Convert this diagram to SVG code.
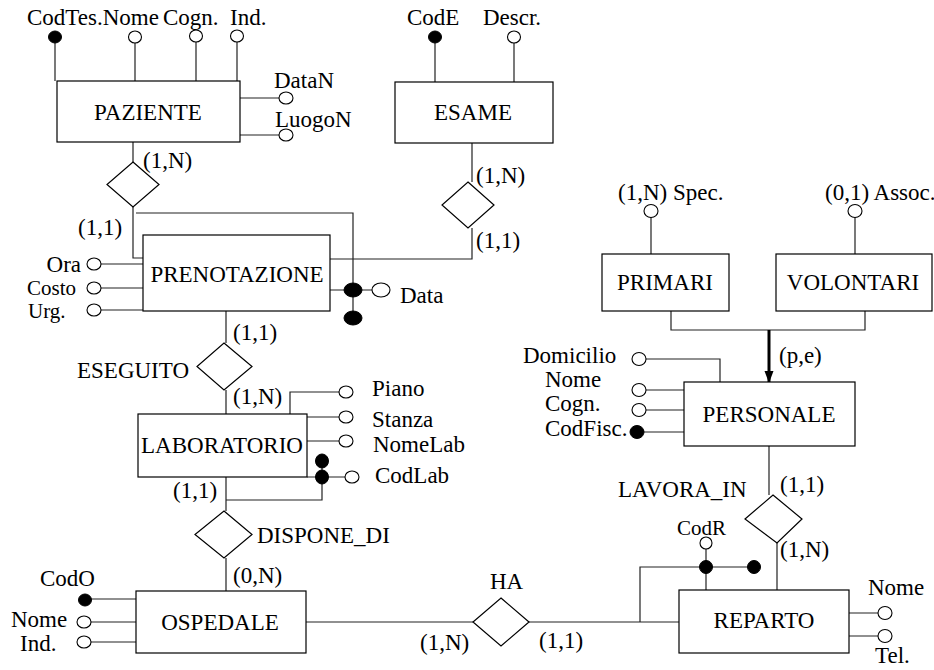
<svg xmlns="http://www.w3.org/2000/svg" width="934" height="670" viewBox="0 0 934 670">
<style>
text{font-family:"Liberation Serif","Times New Roman",serif;font-size:23px;fill:#000}
.c{text-anchor:middle}
.e{fill:#fff;stroke:#000;stroke-width:1.2}
.l{fill:none;stroke:#222;stroke-width:1.2}
.o{fill:#fff;stroke:#000;stroke-width:1.1}
.k{fill:#000;stroke:#000;stroke-width:1}
.r{fill:#fff;stroke:#000;stroke-width:1.2}
.s{font-size:21px}
</style>
<defs>
<marker id="ah" markerWidth="12" markerHeight="10" refX="11" refY="4.5" orient="auto" markerUnits="userSpaceOnUse" viewBox="0 0 12 9">
<path d="M0,0 L12,4.5 L0,9 Z" fill="#000"/>
</marker>
</defs>
<rect width="934" height="670" fill="#fff"/>

<g id="connectors">
<path class="l" d="M55,43V81 M135,43V81 M196,42V81 M237,42V81 M240,98H279 M240,135H279"/>
<path class="l" d="M435,43V82 M514,43V82"/>
<path class="l" d="M133,142V162 M133,207V258H143"/>
<path class="l" d="M136,213H353V318"/>
<path class="l" d="M472,143V182 M472,228V259H330"/>
<path class="l" d="M101,264H143 M101,288H143 M101,310H143 M330,290H372"/>
<path class="l" d="M226,311V343 M226,390V414"/>
<path class="l" d="M290,414V392H339 M305,417H339 M307,441H339 M307,477H345 M322,461V500H226"/>
<path class="l" d="M226,477V511 M226,558V591"/>
<path class="l" d="M91,599H136 M91,622H136 M91,642H136"/>
<path class="l" d="M306,622H473 M529,622H679"/>
<path class="l" d="M640,622V567H754 M706,549V590"/>
<path class="l" d="M849,613H878 M849,636H878"/>
<path class="l" d="M769,446V495 M777,543V590"/>
<path class="l" d="M646,359H720V382 M646,390H684 M646,410H684 M644,432H684"/>
<path class="l" d="M671,311V330H865V311"/>
<path d="M769,330V382" stroke="#000" stroke-width="3" fill="none" marker-end="url(#ah)"/>
<path class="l" d="M651,217V254 M855,217V254"/>
</g>

<g id="PAZIENTE">
<rect class="e" x="57" y="81" width="183" height="61"/>
<text class="c" x="148" y="120">PAZIENTE</text>
<ellipse class="k" cx="55" cy="37" rx="6.5" ry="6"/>
<ellipse class="o" cx="135" cy="37" rx="6.5" ry="6"/>
<ellipse class="o" cx="196" cy="36" rx="6.5" ry="6"/>
<ellipse class="o" cx="237" cy="36" rx="6.5" ry="6"/>
<text x="27" y="25">CodTes.Nome</text>
<text x="163" y="25">Cogn.</text>
<text x="230" y="25">Ind.</text>
<ellipse class="o" cx="286" cy="98" rx="7" ry="6"/>
<ellipse class="o" cx="286" cy="135" rx="7" ry="6"/>
<text x="274" y="88">DataN</text>
<text x="275" y="127">LuogoN</text>
</g>

<g id="ESAME">
<rect class="e" x="395" y="82" width="158" height="61"/>
<text class="c" x="473" y="120">ESAME</text>
<ellipse class="k" cx="435" cy="37" rx="6.5" ry="6"/>
<ellipse class="o" cx="514" cy="37" rx="6.5" ry="6"/>
<text x="407" y="25">CodE</text>
<text x="483" y="25">Descr.</text>
</g>

<g id="rel_paziente">
<path class="r" d="M133,162L159,184.5L133,207L107,184.5Z"/>
<text x="143" y="168">(1,N)</text>
<text x="78" y="235">(1,1)</text>
</g>

<g id="rel_esame">
<path class="r" d="M468,182L494,205L468,228L442,205Z"/>
<text x="476" y="183">(1,N)</text>
<text x="476" y="248">(1,1)</text>
</g>

<g id="PRENOTAZIONE">
<rect class="e" x="143" y="235" width="187" height="76"/>
<text class="c" x="237" y="282">PRENOTAZIONE</text>
<ellipse class="o" cx="94" cy="264" rx="7" ry="6"/>
<ellipse class="o" cx="94" cy="288" rx="7" ry="6"/>
<ellipse class="o" cx="94" cy="310" rx="7" ry="6"/>
<text x="81" y="272" text-anchor="end">Ora</text>
<text x="27" y="295" class="s">Costo</text>
<text x="28" y="318" class="s">Urg.</text>
<ellipse class="k" cx="353" cy="290" rx="9" ry="7"/>
<ellipse class="k" cx="353" cy="318" rx="9" ry="7"/>
<ellipse class="o" cx="381" cy="290" rx="9" ry="7"/>
<text x="400" y="303">Data</text>
</g>

<g id="ESEGUITO">
<path class="r" d="M224,343L252,366.5L224,390L197,366.5Z"/>
<text x="77" y="378">ESEGUITO</text>
<text x="233" y="340">(1,1)</text>
<text x="233" y="404">(1,N)</text>
</g>

<g id="LABORATORIO">
<rect class="e" x="138" y="414" width="169" height="63"/>
<text class="c" x="222" y="453">LABORATORIO</text>
<ellipse class="o" cx="346" cy="392" rx="7" ry="6"/>
<ellipse class="o" cx="346" cy="417" rx="7" ry="6"/>
<ellipse class="o" cx="346" cy="441" rx="7" ry="6"/>
<ellipse class="o" cx="352" cy="477" rx="7" ry="6"/>
<ellipse class="k" cx="322" cy="461" rx="6.5" ry="7"/>
<ellipse class="k" cx="322" cy="477" rx="6.5" ry="7"/>
<text x="372" y="396">Piano</text>
<text x="372" y="427">Stanza</text>
<text x="373" y="452">NomeLab</text>
<text x="375" y="483">CodLab</text>
</g>

<g id="DISPONE_DI">
<path class="r" d="M224,511L252,534.5L224,558L195,534.5Z"/>
<text x="257" y="543">DISPONE_DI</text>
<text x="173" y="498">(1,1)</text>
<text x="233" y="583">(0,N)</text>
</g>

<g id="OSPEDALE">
<rect class="e" x="136" y="591" width="170" height="62"/>
<text class="c" x="220" y="630">OSPEDALE</text>
<ellipse class="k" cx="85" cy="600" rx="6.5" ry="6"/>
<ellipse class="o" cx="84" cy="622" rx="7" ry="6"/>
<ellipse class="o" cx="84" cy="642" rx="7" ry="6"/>
<text x="40" y="586">CodO</text>
<text x="11" y="627">Nome</text>
<text x="20" y="651">Ind.</text>
</g>

<g id="HA">
<path class="r" d="M501,598L529,622L501,646L473,622Z"/>
<text x="490" y="589">HA</text>
<text x="420" y="650">(1,N)</text>
<text x="539" y="648">(1,1)</text>
</g>

<g id="REPARTO">
<rect class="e" x="679" y="590" width="170" height="63"/>
<text class="c" x="764" y="628">REPARTO</text>
<ellipse class="o" cx="706" cy="543" rx="6" ry="6"/>
<ellipse class="k" cx="706" cy="567" rx="6.5" ry="6.5"/>
<ellipse class="k" cx="754" cy="567" rx="6.5" ry="6.5"/>
<text x="677" y="535" style="font-size:21px">CodR</text>
<ellipse class="o" cx="885" cy="613" rx="7" ry="6.5"/>
<ellipse class="o" cx="885" cy="636" rx="7" ry="6.5"/>
<text x="868" y="595">Nome</text>
<text x="875" y="663">Tel.</text>
</g>

<g id="LAVORA_IN">
<path class="r" d="M773,495L802,519L777,543L745,519Z"/>
<text x="618" y="497">LAVORA_IN</text>
<text x="780" y="492">(1,1)</text>
<text x="780" y="557">(1,N)</text>
</g>

<g id="PERSONALE">
<rect class="e" x="684" y="382" width="171" height="64"/>
<text class="c" x="769" y="422">PERSONALE</text>
<ellipse class="o" cx="639" cy="359" rx="7" ry="6.5"/>
<ellipse class="o" cx="639" cy="390" rx="7" ry="6.5"/>
<ellipse class="o" cx="639" cy="410" rx="7" ry="6.5"/>
<ellipse class="k" cx="637" cy="432" rx="7" ry="6.5"/>
<text x="523" y="363">Domicilio</text>
<text x="545" y="387">Nome</text>
<text x="545" y="411">Cogn.</text>
<text x="545" y="436">CodFisc.</text>
<text x="779" y="363">(p,e)</text>
</g>

<g id="PRIMARI">
<rect class="e" x="602" y="254" width="127" height="57"/>
<text class="c" x="665" y="290">PRIMARI</text>
<ellipse class="o" cx="651" cy="211" rx="7" ry="6.5"/>
<text x="618" y="200">(1,N) Spec.</text>
</g>

<g id="VOLONTARI">
<rect class="e" x="776" y="254" width="156" height="57"/>
<text class="c" x="853" y="290">VOLONTARI</text>
<ellipse class="o" cx="855" cy="211" rx="7" ry="6.5"/>
<text x="825" y="200">(0,1) Assoc.</text>
</g>
</svg>
